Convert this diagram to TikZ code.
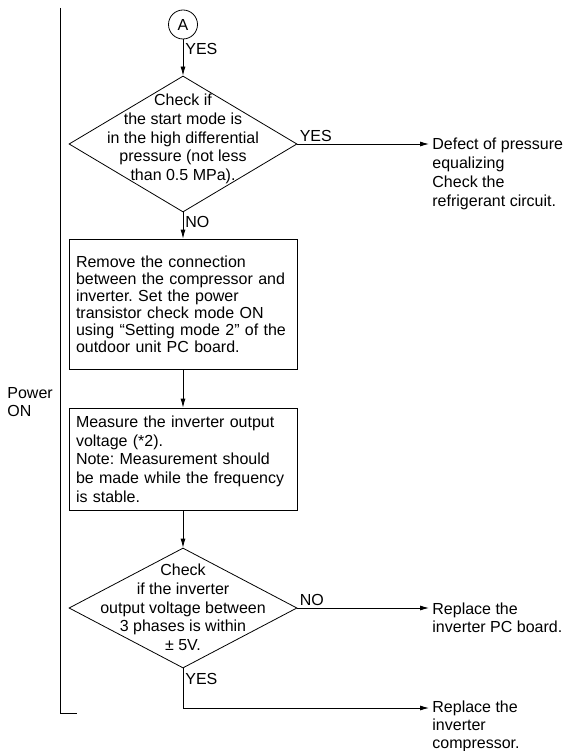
\documentclass[tikz,border=0pt]{standalone}
\usepackage{fontspec}
\setmainfont{Liberation Sans}
\frenchspacing
\usetikzlibrary{shapes.geometric,arrows.meta}
\tikzset{
  flow/.style={x=1pt,y=-1pt,line width=0.8pt,font={\fontsize{16}{18.7}\selectfont}},
  arr/.style={-{Latex[length=9pt,width=5pt]}},
  decbox/.style={diamond,draw,inner sep=0pt,minimum width=228pt},
  stepbox/.style={rectangle,draw,text width=214pt,inner xsep=7pt,align=left},
  restext/.style={anchor=north west,inner sep=0pt,align=left},
  lbl/.style={inner sep=2pt},
}

\begin{document}
\begin{tikzpicture}[flow]
  \useasboundingbox (0,0) rectangle (563,751);
  % power-on bracket
  \draw (60,8) -- (60,713) -- (77,713);
  \node[anchor=west,align=left,inner sep=0pt] (pwr) at (7,402) {Power\\ON};

  \node[circle,draw,minimum size=29pt,inner sep=0pt] (conA) at (183,24.5) {A};
  \node[decbox,minimum height=136pt] (chkdiff) at (183,144) {};
  \node[align=center,inner sep=0pt] (chkdifftxt) at (183,139)
    {Check if\\the start mode is\\in the high differential\\pressure (not less\\than 0.5 MPa).};
  \node[stepbox,minimum height=130pt,font={\fontsize{16}{17}\selectfont}] (boxconn) at (183,304)
    {Remove the connection\\between the compressor and\\inverter. Set the power\\transistor check mode ON\\using “Setting mode 2” of the\\outdoor unit PC board.};
  \node[stepbox,minimum height=102pt] (boxmeas) at (183,459)
    {Measure the inverter output\\voltage (*2).\\Note: Measurement should\\be made while the frequency\\is stable.};
  \node[decbox,minimum height=120pt] (chkvolt) at (183,608) {};
  \node[align=center,inner sep=0pt] (chkvolttxt) at (183,607.5)
    {Check\\if the inverter\\output voltage between\\3 phases is within\\± 5V.};

  % results
  \coordinate (tipdiff) at (429,144);
  \coordinate (tipboard) at (429,608);
  \coordinate (tipcomp) at (429,708);
  \node[restext] (resdiff) at (432,138) {Defect of pressure\\equalizing\\Check the\\refrigerant circuit.};
  \node[restext] (resboard) at (432,602) {Replace the\\inverter PC board.};
  \node[restext,font={\fontsize{16}{18}\selectfont}] (rescomp) at (432,700) {Replace the\\inverter\\compressor.};

  \draw[arr] (conA) -- node[lbl,anchor=west,pos=0.27] {YES} (chkdiff.north);
  \draw[arr] (chkdiff.east) -- node[lbl,anchor=south west,pos=0] {YES} (tipdiff);
  \draw[arr] (chkdiff.south) -- node[lbl,anchor=west,pos=0.37] {NO} (boxconn);
  \draw[arr] (boxconn) -- (boxmeas);
  \draw[arr] (boxmeas) -- (chkvolt.north);
  \draw[arr] (chkvolt.east) -- node[lbl,anchor=south west,pos=0] {NO} (tipboard);
  \draw[arr] (chkvolt.south) |- node[lbl,anchor=west,pos=0.13] {YES} (tipcomp);
\end{tikzpicture}
\end{document}
